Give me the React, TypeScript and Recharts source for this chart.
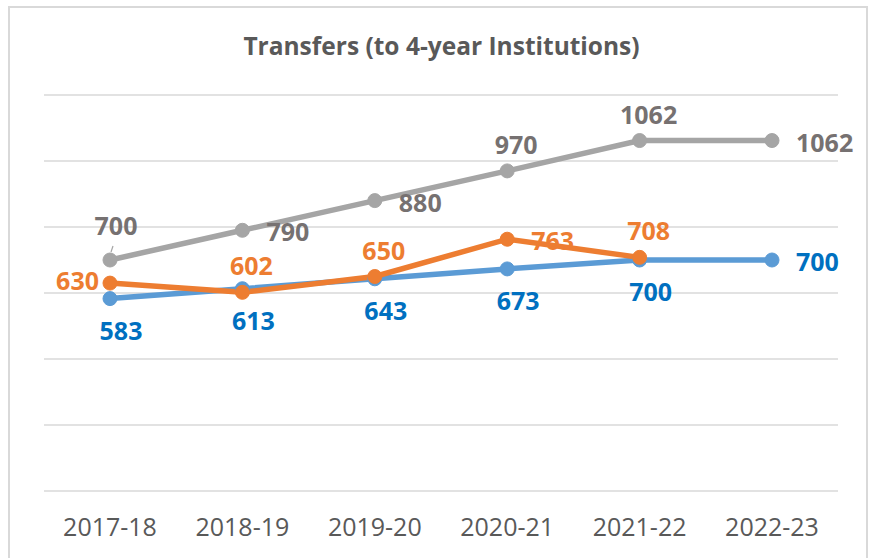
import React from 'react';
import { LineChart, Line, XAxis, YAxis, CartesianGrid } from 'recharts';

const categories = ['2017-18', '2018-19', '2019-20', '2020-21', '2021-22', '2022-23'];
const grayValues = [700, 790, 880, 970, 1062, 1062];
const blueValues = [583, 613, 643, 673, 700, 700];
const orangeValues: (number | null)[] = [630, 602, 650, 763, 708, null];
const yTicks = [0, 200, 400, 600, 800, 1000, 1200];

const grayPlace = ['topLeader', 'right', 'right', 'top', 'top', 'right'];
const bluePlace = ['bottom', 'bottom', 'bottom', 'bottom', 'bottom', 'right'];
const orangePlace = ['left', 'top', 'top', 'right', 'top', 'top'];

const data = categories.map((c, i) => ({
  cat: c,
  gray: grayValues[i],
  blue: blueValues[i],
  orange: orangeValues[i],
}));

const FONT = '"Open Sans", sans-serif';

const makeLabel = (color: string, places: string[]) => (props: any) => {
  const { x, y, value, index } = props;
  if (value === null || value === undefined || x === undefined) return null;
  const p = places[index];
  let tx = x;
  let ty = y;
  let anchor: 'middle' | 'start' | 'end' = 'middle';
  let leader = null;
  if (p === 'top') {
    tx = x + 9;
    ty = y - 27;
  } else if (p === 'topLeader') {
    tx = x + 6;
    ty = y - 35;
    leader = <line x1={x + 3} y1={y - 14} x2={x + 1} y2={y - 8} stroke="#a5a5a5" strokeWidth={1.2} />;
  } else if (p === 'bottom') {
    tx = x + 11;
    ty = y + 31;
  } else if (p === 'right') {
    tx = x + 24;
    ty = y + 1;
    anchor = 'start';
  } else if (p === 'left') {
    tx = x - 11;
    ty = y - 3;
    anchor = 'end';
  }
  return (
    <g key={`l-${index}`}>
      {leader}
      <text
        x={tx}
        y={ty}
        textAnchor={anchor}
        dominantBaseline="central"
        fill={color}
        fontFamily={FONT}
        fontWeight={700}
        fontSize={25}
      >
        {value}
      </text>
    </g>
  );
};

export default function App() {
  return (
    <div style={{ position: 'absolute', left: 0, top: 0, width: 869, height: 558, background: '#fff', overflow: 'hidden' }}>
      <div
        style={{
          position: 'absolute',
          left: 8,
          top: 6,
          width: 860,
          height: 570,
          border: '2px solid #d9d9d9',
          boxSizing: 'border-box',
        }}
      />
      <div
        style={{
          position: 'absolute',
          left: 0,
          width: 883,
          top: 30,
          textAlign: 'center',
          fontFamily: FONT,
          fontWeight: 700,
          fontSize: 24.5,
          color: '#595959',
          lineHeight: '32px',
        }}
      >
        Transfers (to 4-year Institutions)
      </div>
      <div style={{ position: 'absolute', left: 0, top: 0 }}>
        <LineChart width={869} height={558} data={data} margin={{ top: 95, left: 44, right: 31, bottom: 37 }}>
          <CartesianGrid vertical={false} stroke="#d9d9d9" strokeWidth={1.5} />
          <YAxis hide domain={[0, 1200]} ticks={yTicks} />
          <XAxis
            dataKey="cat"
            axisLine={false}
            tickLine={false}
            tickMargin={21}
            interval={0}
            height={30}
            padding={{ left: 66, right: 66 }}
            tick={{ fill: '#595959', fontSize: 25, fontFamily: FONT }}
          />
          <Line
            dataKey="gray"
            stroke="#a5a5a5"
            strokeWidth={5.5}
            dot={{ r: 7, fill: '#a5a5a5', stroke: '#a5a5a5', strokeWidth: 1 }}
            isAnimationActive={false}
            label={makeLabel('#767171', grayPlace)}
          />
          <Line
            dataKey="blue"
            stroke="#5b9bd5"
            strokeWidth={5.5}
            dot={{ r: 7, fill: '#5b9bd5', stroke: '#5b9bd5', strokeWidth: 1 }}
            isAnimationActive={false}
            label={makeLabel('#0070c0', bluePlace)}
          />
          <Line
            dataKey="orange"
            stroke="#ed7d31"
            strokeWidth={5.5}
            dot={{ r: 7, fill: '#ed7d31', stroke: '#ed7d31', strokeWidth: 1 }}
            isAnimationActive={false}
            label={makeLabel('#ed7d31', orangePlace)}
          />
        </LineChart>
      </div>
    </div>
  );
}
